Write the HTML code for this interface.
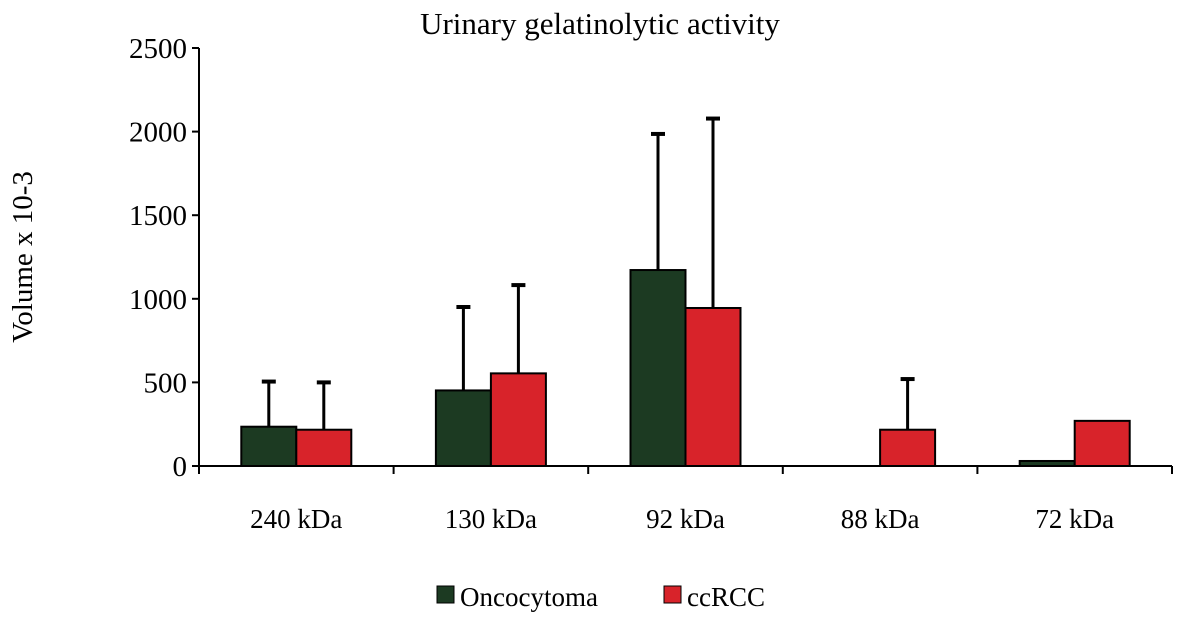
<!DOCTYPE html>
<html><head><meta charset="utf-8"><style>
body{margin:0;background:#fff}
svg text{font-family:"Liberation Serif",serif;fill:#000}
</style></head><body>
<svg id="c" width="1181" height="628">
<text x="600" y="34" font-size="31" text-anchor="middle">Urinary gelatinolytic activity</text>
<text transform="translate(32,257) rotate(-90)" font-size="29" text-anchor="middle">Volume x 10-3</text>
<g id="ax"></g><g id="bars"></g>
<g>
<rect x="437" y="586" width="17" height="17" fill="#1c3a22" stroke="#000"/>
<text x="460" y="606" font-size="27">Oncocytoma</text>
<rect x="664" y="586" width="17" height="17" fill="#d8232a" stroke="#000"/>
<text x="687" y="606" font-size="27">ccRCC</text>
</g>
</svg>
<script>
const categories=["240 kDa","130 kDa","92 kDa","88  kDa","72 kDa"];
const oncocytoma=[235,452,1172,0,30];
const oncErr=[505,951,1986,null,null];
const ccrcc=[217,554,945,217,270];
const ccErr=[500,1082,2078,520,null];
const yTicks=[0,500,1000,1500,2000,2500];
const NS="http://www.w3.org/2000/svg";
const x0=199,x1=1172,y0=466,yTop=48,yMax=2500;
const y=v=>y0-(v/yMax)*(y0-yTop);
const cw=(x1-x0)/categories.length;
const ax=document.getElementById('ax'),bg=document.getElementById('bars');
function mk(tag,a,p){const e=document.createElementNS(NS,tag);for(const k in a)e.setAttribute(k,a[k]);p.appendChild(e);return e;}
let l=mk('line',{x1:x0,y1:yTop,x2:x0,y2:y0,stroke:'#000','stroke-width':2},ax);


l=mk('line',{x1:x0,y1:y0,x2:x1,y2:y0,stroke:'#000','stroke-width':2},ax);


yTicks.forEach(v=>{mk('line',{x1:x0-7,y1:y(v),x2:x0,y2:y(v),stroke:'#000','stroke-width':2},ax);
const t=mk('text',{x:x0-12,y:y(v)+10,'font-size':29,'text-anchor':'end'},ax);t.textContent=v;

});
for(let i=0;i<=categories.length;i++)mk('line',{x1:x0+i*cw,y1:y0,x2:x0+i*cw,y2:y0+8,stroke:'#000','stroke-width':2},ax);
categories.forEach((c,i)=>{const t=mk('text',{x:x0+(i+0.5)*cw,y:528,'font-size':27,'text-anchor':'middle','xml:space':'preserve'},ax);t.textContent=c;

});
const bw=55;
function bar(v,e,cx,col,name){
 if(e!=null){mk('line',{x1:cx,y1:y(v),x2:cx,y2:y(e),stroke:'#000','stroke-width':3},bg);
 mk('line',{x1:cx-7,y1:y(e),x2:cx+7,y2:y(e),stroke:'#000','stroke-width':4},bg);}
 if(v>0){const r=mk('rect',{x:cx-bw/2,y:y(v),width:bw,height:y0-y(v),fill:col,stroke:'#000','stroke-width':2},bg);
 
 }
}
categories.forEach((c,i)=>{const cx=x0+(i+0.5)*cw;
bar(oncocytoma[i],oncErr[i],cx-bw/2,'#1c3a22','bar-oncocytoma');
bar(ccrcc[i],ccErr[i],cx+bw/2,'#d8232a','bar-ccrcc');});
</script>
</body></html>
